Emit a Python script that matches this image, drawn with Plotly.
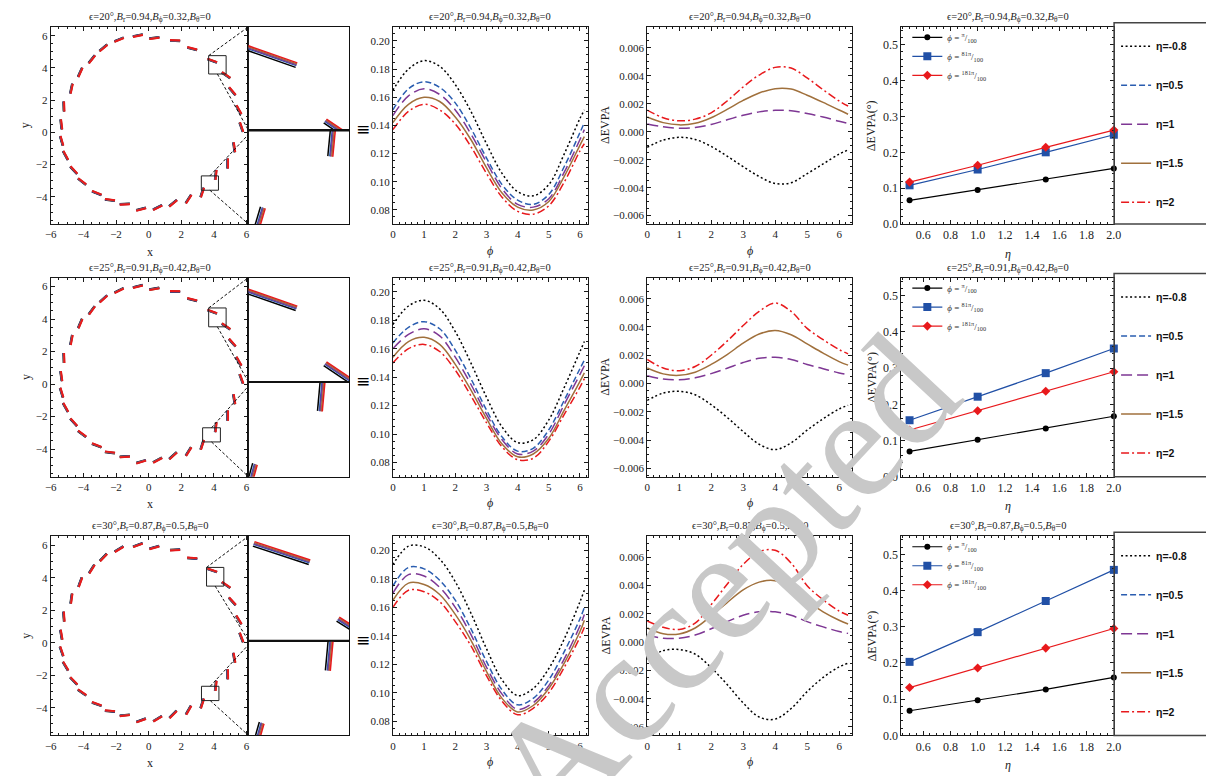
import math
import plotly.graph_objects as go

W, H = 1214, 776

# ---------------- data ----------------
eta_names = ["η=-0.8", "η=0.5", "η=1", "η=1.5", "η=2"]
phi_names = ["<i>ϕ</i> = <sup>π</sup>/<sub>100</sub>",
             "<i>ϕ</i> = <sup>81π</sup>/<sub>100</sub>",
             "<i>ϕ</i> = <sup>181π</sup>/<sub>100</sub>"]

panel_titles = [
    "ϵ=20°,<i>B</i><sub>r</sub>=0.94,<i>B</i><sub>ϕ</sub>=0.32,<i>B</i><sub>θ</sub>=0",
    "ϵ=25°,<i>B</i><sub>r</sub>=0.91,<i>B</i><sub>ϕ</sub>=0.42,<i>B</i><sub>θ</sub>=0",
    "ϵ=30°,<i>B</i><sub>r</sub>=0.87,<i>B</i><sub>ϕ</sub>=0.5,<i>B</i><sub>θ</sub>=0",
]
watermark = "Accepted"

# polarization ticks on the image ring (centres, degrees)
tick_x = [0.35, 1.62, 2.67, 3.9, 4.75, 5.13, 5.53, 5.69, 5.25, 4.85, 4.12, 3.29, 2.45, 1.5, 0.55, -0.46,
          -1.46, -2.37, -3.18, -4.08, -4.59, -5.09, -5.33, -5.35, -5.19, -4.73, -4.19, -3.48, -2.77, -1.81, -0.66]
tick_y = [5.85, 5.7, 5.2, 4.45, 3.55, 2.55, 1.4, 0.32, -0.93, -1.94, -2.65, -3.74, -4.15, -4.41, -4.68, -4.78,
          -4.47, -4.2, -3.77, -3.06, -2.35, -1.44, -0.53, 0.49, 1.6, 2.71, 3.72, 4.53, 5.24, 5.75, 6.0]
tick_angle_r1 = [8, 178, 165, 160, 145, 130, 119, 109, 98, 90, 84, 72, 57, 40, 27, 15,
                 3, 172, 158, 142, 132, 118, 106, 97, 92, 78, 66, 52, 40, 23, 12]
tick_angle_r2 = [10, 179, 166, 160, 145, 131, 120, 110, 99, 90, 84, 72, 58, 42, 28, 17,
                 4, 173, 159, 143, 132, 119, 107, 98, 92, 79, 67, 54, 42, 26, 14]
tick_angle_r3 = [16, 3, 176, 161, 146, 132, 121, 111, 100, 91, 84, 72, 60, 45, 31, 20,
                 6, 175, 160, 145, 134, 121, 109, 100, 94, 82, 70, 58, 46, 31, 20]

# zoom boxes [x0, x1, y0, y1]
box_up = [[3.68, 4.75, 3.62, 4.76], [3.68, 4.75, 3.52, 4.68], [3.55, 4.61, 3.48, 4.63]]
box_low = [[3.23, 4.28, -3.60, -2.71], [3.31, 4.40, -3.56, -2.69], [3.24, 4.31, -3.56, -2.68]]

# degree of polarization vs phi
phi_pd = [0, 0.5, 1, 1.5, 2, 2.5, 3, 3.5, 4, 4.5, 5, 5.5, 6, 6.14]
pd_r1_m08 = [0.165, 0.180, 0.186, 0.182, 0.169, 0.150, 0.127, 0.106, 0.093, 0.090, 0.098, 0.120, 0.145, 0.151]
pd_r1_05 = [0.151, 0.166, 0.171, 0.167, 0.156, 0.138, 0.117, 0.098, 0.087, 0.084, 0.091, 0.111, 0.135, 0.142]
pd_r1_1 = [0.147, 0.161, 0.166, 0.162, 0.151, 0.134, 0.114, 0.095, 0.084, 0.082, 0.088, 0.107, 0.130, 0.137]
pd_r1_15 = [0.142, 0.155, 0.160, 0.157, 0.146, 0.130, 0.110, 0.092, 0.082, 0.080, 0.086, 0.104, 0.126, 0.132]
pd_r1_2 = [0.137, 0.150, 0.155, 0.151, 0.141, 0.125, 0.106, 0.089, 0.079, 0.077, 0.083, 0.100, 0.122, 0.127]

pd_r2_m08 = [0.177, 0.190, 0.194, 0.188, 0.172, 0.150, 0.126, 0.105, 0.094, 0.096, 0.110, 0.133, 0.158, 0.165]
pd_r2_05 = [0.164, 0.175, 0.179, 0.174, 0.159, 0.139, 0.117, 0.098, 0.088, 0.090, 0.103, 0.124, 0.146, 0.152]
pd_r2_1 = [0.160, 0.170, 0.174, 0.169, 0.154, 0.135, 0.114, 0.096, 0.086, 0.088, 0.100, 0.121, 0.142, 0.148]
pd_r2_15 = [0.154, 0.165, 0.168, 0.163, 0.149, 0.131, 0.111, 0.093, 0.084, 0.086, 0.097, 0.117, 0.137, 0.143]
pd_r2_2 = [0.150, 0.160, 0.163, 0.158, 0.145, 0.127, 0.108, 0.091, 0.082, 0.083, 0.095, 0.114, 0.133, 0.139]

pd_r3_m08 = [0.190, 0.203, 0.2025, 0.194, 0.178, 0.156, 0.131, 0.109, 0.098, 0.103, 0.117, 0.138, 0.164, 0.172]
pd_r3_05 = [0.175, 0.188, 0.187, 0.179, 0.165, 0.145, 0.122, 0.102, 0.0915, 0.096, 0.109, 0.129, 0.152, 0.160]
pd_r3_1 = [0.170, 0.183, 0.182, 0.174, 0.160, 0.141, 0.118, 0.099, 0.0883, 0.093, 0.105, 0.124, 0.147, 0.155]
pd_r3_15 = [0.165, 0.177, 0.176, 0.169, 0.155, 0.137, 0.115, 0.096, 0.0865, 0.091, 0.103, 0.121, 0.143, 0.151]
pd_r3_2 = [0.160, 0.172, 0.171, 0.164, 0.150, 0.133, 0.112, 0.094, 0.0845, 0.089, 0.100, 0.118, 0.139, 0.146]

# Delta EVPA vs phi (eta = -0.8, 1, 1.5, 2)
phi_dev = [0, 0.5, 1, 1.5, 2, 2.5, 3, 3.5, 4, 4.5, 5, 5.5, 6, 6.28]
dev_r1_m08 = [-0.00111, -0.00060, -0.00040, -0.00055, -0.00105, -0.00175, -0.00250, -0.00320, -0.00370, -0.00365, -0.00300, -0.00230, -0.00160, -0.00130]
dev_r1_1 = [0.00055, 0.00035, 0.00025, 0.00030, 0.00052, 0.00085, 0.00118, 0.00142, 0.00153, 0.00150, 0.00130, 0.00105, 0.00075, 0.00060]
dev_r1_15 = [0.00106, 0.00065, 0.00049, 0.00060, 0.00100, 0.00160, 0.00224, 0.00277, 0.00308, 0.00305, 0.00261, 0.00210, 0.00155, 0.00125]
dev_r1_2 = [0.00155, 0.00100, 0.00078, 0.00090, 0.00135, 0.00220, 0.00320, 0.00405, 0.00460, 0.00455, 0.00385, 0.00300, 0.00220, 0.00184]

dev_r2_m08 = [-0.00120, -0.00068, -0.00055, -0.00080, -0.00150, -0.00240, -0.00340, -0.00430, -0.00468, -0.00420, -0.00330, -0.00250, -0.00180, -0.00155]
dev_r2_1 = [0.00055, 0.00032, 0.00026, 0.00040, 0.00070, 0.00108, 0.00148, 0.00178, 0.00185, 0.00170, 0.00135, 0.00105, 0.00075, 0.00063]
dev_r2_15 = [0.00110, 0.00068, 0.00058, 0.00080, 0.00135, 0.00205, 0.00285, 0.00350, 0.00375, 0.00345, 0.00280, 0.00215, 0.00155, 0.00130]
dev_r2_2 = [0.00170, 0.00110, 0.00091, 0.00120, 0.00200, 0.00300, 0.00410, 0.00510, 0.00570, 0.00510, 0.00390, 0.00310, 0.00240, 0.00210]

dev_r3_m08 = [-0.00120, -0.00060, -0.00052, -0.00085, -0.00180, -0.00300, -0.00430, -0.00530, -0.00545, -0.00470, -0.00350, -0.00250, -0.00175, -0.00150]
dev_r3_1 = [0.00050, 0.00028, 0.00028, 0.00050, 0.00095, 0.00145, 0.00190, 0.00215, 0.00215, 0.00190, 0.00145, 0.00108, 0.00075, 0.00062]
dev_r3_15 = [0.00100, 0.00060, 0.00058, 0.00100, 0.00185, 0.00280, 0.00370, 0.00425, 0.00435, 0.00380, 0.00290, 0.00215, 0.00155, 0.00128]
dev_r3_2 = [0.00150, 0.00105, 0.00090, 0.00135, 0.00265, 0.00410, 0.00550, 0.00640, 0.00650, 0.00560, 0.00400, 0.00300, 0.00220, 0.00190]

# Delta EVPA (deg) vs eta at three phi
eta_vals = [0.5, 1.0, 1.5, 2.0]
evpa_r1_a = [0.066, 0.095, 0.124, 0.155]
evpa_r1_b = [0.108, 0.152, 0.200, 0.249]
evpa_r1_c = [0.117, 0.164, 0.214, 0.262]
evpa_r2_a = [0.070, 0.102, 0.133, 0.167]
evpa_r2_b = [0.156, 0.221, 0.286, 0.354]
evpa_r2_c = [0.129, 0.182, 0.236, 0.290]
evpa_r3_a = [0.068, 0.097, 0.127, 0.160]
evpa_r3_b = [0.203, 0.285, 0.371, 0.457]
evpa_r3_c = [0.132, 0.186, 0.241, 0.295]

# ---------------- styles ----------------
eta_colors = ["#000000", "#2a5db0", "#7e3794", "#a0703c", "#e8191c"]
eta_dash = ["2px,2.5px", "6px,3px", "11px,5px", "solid", "8px,3px,2px,3px"]
phi_colors = ["#000000", "#2150a6", "#e8191c"]
phi_symbols = ["circle", "square", "diamond"]
phi_sizes = [6, 8, 7]
tick_half = 0.31
eta_offset = [0.032, 0.012, 0.002, -0.009, -0.02]
SERIF = "Liberation Serif"

rows_px = [(19, 218), (272, 473), (533, 734)]
col_main = (37, 237)
col_inset = (237, 339)
col2 = (383, 580)
col3 = (640, 847)
col4 = (897, 1112)
legbox = (1112, 1210)

main_xr = [-6.01, 6.12]
main_yr = [-5.7, 6.55]
pd_yr = [0.07, 0.21]
pd_xr = [0, 6.25]
dev_yr = [-0.0066, 0.0075]
dev_xr = [0, 6.4]
ev_xr = [0.44, 2.002]
ev_yr = [0, 0.55]

pd_rows = [[pd_r1_m08, pd_r1_05, pd_r1_1, pd_r1_15, pd_r1_2],
           [pd_r2_m08, pd_r2_05, pd_r2_1, pd_r2_15, pd_r2_2],
           [pd_r3_m08, pd_r3_05, pd_r3_1, pd_r3_15, pd_r3_2]]
dev_rows = [[dev_r1_m08, None, dev_r1_1, dev_r1_15, dev_r1_2],
            [dev_r2_m08, None, dev_r2_1, dev_r2_15, dev_r2_2],
            [dev_r3_m08, None, dev_r3_1, dev_r3_15, dev_r3_2]]
ev_rows = [[evpa_r1_a, evpa_r1_b, evpa_r1_c],
           [evpa_r2_a, evpa_r2_b, evpa_r2_c],
           [evpa_r3_a, evpa_r3_b, evpa_r3_c]]
ang_rows = [tick_angle_r1, tick_angle_r2, tick_angle_r3]


def fx(p):
    return p / W


def fy(p):
    return 1 - p / H


def dom_x(a):
    return [a[0] / W, a[1] / W]


def dom_y(top, bot):
    return [1 - bot / H, 1 - top / H]


def axname(i, kind):
    return f"{kind}axis" if i == 1 else f"{kind}axis{i}"


def axref(i, kind):
    return kind if i == 1 else f"{kind}{i}"


def base_axis(minor_dtick=None, fsize=11, **kw):
    d = dict(showgrid=False, zeroline=False, showline=True, linecolor="#1a1a1a", linewidth=1,
             mirror="ticks", ticks="inside", ticklen=4, tickwidth=1, tickcolor="#1a1a1a",
             tickfont=dict(family=SERIF, size=fsize, color="#222222"))
    if minor_dtick is not None:
        d["minor"] = dict(ticks="inside", ticklen=2, tickwidth=0.8, tickcolor="#1a1a1a",
                          dtick=minor_dtick, showgrid=False)
    d.update(kw)
    return d


def inset_axis(**kw):
    d = dict(showticklabels=False, ticks="", showgrid=False, zeroline=False,
             showline=True, linecolor="#111111", linewidth=1, mirror=True)
    d.update(kw)
    return d


def segments(xs, ys, angs, off):
    X, Y = [], []
    for cx, cy, a in zip(xs, ys, angs):
        t = math.radians(a)
        ux, uy = math.cos(t), math.sin(t)
        nx, ny = -uy, ux
        ox, oy = cx + off * nx, cy + off * ny
        X += [ox - tick_half * ux, ox + tick_half * ux, None]
        Y += [oy - tick_half * uy, oy + tick_half * uy, None]
    return X, Y


def to_px(x, y, xr, yr, xd, yd):
    px_ = xd[0] + (x - xr[0]) / (xr[1] - xr[0]) * (xd[1] - xd[0])
    py_ = yd[1] - (y - yr[0]) / (yr[1] - yr[0]) * (yd[1] - yd[0])
    return px_, py_


def ann(text, x, y, font, angle=0):
    return dict(text=text, x=fx(x), y=fy(y), xref="paper", yref="paper", xanchor="center",
                yanchor="middle", showarrow=False, font=font, textangle=angle)


fig = go.Figure()
layout = dict(width=W, height=H, margin=dict(l=0, r=0, t=0, b=0),
              paper_bgcolor="white", plot_bgcolor="white", showlegend=True)
shapes = []
annotations = []

for r in range(3):
    top, bot = rows_px[r]
    mid = (top + bot) / 2 + 5
    b = r * 6
    i_main, i_up, i_low, i_pd, i_dev, i_ev = b + 1, b + 2, b + 3, b + 4, b + 5, b + 6
    leg_eta = "legend" if r == 0 else f"legend{r + 1}"
    leg_phi = f"legend{r + 4}"

    # --- axes ---
    layout[axname(i_main, "x")] = base_axis(0.5, domain=dom_x(col_main), range=main_xr, anchor=axref(i_main, "y"),
                                            dtick=2, tick0=0)
    layout[axname(i_main, "y")] = base_axis(0.5, domain=dom_y(top, bot), range=main_yr, anchor=axref(i_main, "x"),
                                            dtick=2, tick0=0)
    bu, bl = box_up[r], box_low[r]
    layout[axname(i_up, "x")] = inset_axis(domain=dom_x(col_inset), range=[bu[0], bu[1]], anchor=axref(i_up, "y"))
    layout[axname(i_up, "y")] = inset_axis(domain=dom_y(top, mid), range=[bu[2], bu[3]], anchor=axref(i_up, "x"))
    layout[axname(i_low, "x")] = inset_axis(domain=dom_x(col_inset), range=[bl[0], bl[1]], anchor=axref(i_low, "y"))
    layout[axname(i_low, "y")] = inset_axis(domain=dom_y(mid, bot), range=[bl[2], bl[3]], anchor=axref(i_low, "x"))
    layout[axname(i_pd, "x")] = base_axis(0.2, domain=dom_x(col2), range=pd_xr, anchor=axref(i_pd, "y"),
                                          dtick=1, tick0=0)
    layout[axname(i_pd, "y")] = base_axis(0.005, domain=dom_y(top, bot), range=pd_yr, anchor=axref(i_pd, "x"),
                                          dtick=0.02, tick0=0, tickformat=".2f")
    layout[axname(i_dev, "x")] = base_axis(0.2, domain=dom_x(col3), range=dev_xr, anchor=axref(i_dev, "y"),
                                           dtick=1, tick0=0)
    layout[axname(i_dev, "y")] = base_axis(0.0005, domain=dom_y(top, bot), range=dev_yr, anchor=axref(i_dev, "x"),
                                           dtick=0.002, tick0=0, tickformat=".3f")
    layout[axname(i_ev, "x")] = base_axis(0.05, fsize=12, domain=dom_x(col4), range=ev_xr, anchor=axref(i_ev, "y"),
                                          dtick=0.2, tick0=0, tickformat=".1f")
    layout[axname(i_ev, "y")] = base_axis(0.02, fsize=12, domain=dom_y(top, bot), range=ev_yr, anchor=axref(i_ev, "x"),
                                          dtick=0.1, tick0=0, tickformat=".1f")

    # --- polarization ticks (main + insets) ---
    for k in range(5):
        X, Y = segments(tick_x, tick_y, ang_rows[r], eta_offset[k])
        for ia, wdt in ((i_main, 1.9), (i_up, 1.5), (i_low, 1.5)):
            fig.add_trace(go.Scatter(x=X, y=Y, mode="lines", line=dict(color=eta_colors[k], width=wdt),
                                     xaxis=axref(ia, "x"), yaxis=axref(ia, "y"), showlegend=False,
                                     hoverinfo="skip"))

    # zoom boxes
    for bx in (bu, bl):
        shapes.append(dict(type="rect", xref=axref(i_main, "x"), yref=axref(i_main, "y"),
                           x0=bx[0], x1=bx[1], y0=bx[2], y1=bx[3], line=dict(color="#222222", width=1)))
    # connector dashed lines
    xd, yd = col_main, (top, bot)
    p1 = to_px(bu[0], bu[3], main_xr, main_yr, xd, yd)
    p2 = to_px((bu[0] + bu[1]) / 2, bu[2], main_xr, main_yr, xd, yd)
    p3 = to_px((bl[0] + bl[1]) / 2, bl[3], main_xr, main_yr, xd, yd)
    p4 = to_px((bl[0] + bl[1]) / 2, bl[2], main_xr, main_yr, xd, yd)
    for (sx, sy), (ex, ey) in ((p1, (col_inset[0], top)), (p2, (col_inset[0], mid)),
                               (p3, (col_inset[0], mid + 4)), (p4, (col_inset[0], bot))):
        shapes.append(dict(type="line", xref="paper", yref="paper", x0=fx(sx), y0=fy(sy), x1=fx(ex), y1=fy(ey),
                           line=dict(color="#111111", width=1, dash="3px,2px")))
    # thick split line in inset
    shapes.append(dict(type="line", xref="paper", yref="paper", x0=fx(col_inset[0]), x1=fx(col_inset[1]),
                       y0=fy(mid), y1=fy(mid), line=dict(color="#111111", width=2)))

    # --- degree of polarization ---
    for k in range(5):
        fig.add_trace(go.Scatter(x=phi_pd, y=pd_rows[r][k], mode="lines", name=eta_names[k],
                                 line=dict(color=eta_colors[k], width=1.5, dash=eta_dash[k], shape="spline"),
                                 xaxis=axref(i_pd, "x"), yaxis=axref(i_pd, "y"),
                                 legend=leg_eta, legendgroup=f"r{r}e{k}", showlegend=True))
    # --- delta EVPA ---
    for k in range(5):
        if dev_rows[r][k] is None:
            continue
        fig.add_trace(go.Scatter(x=phi_dev, y=dev_rows[r][k], mode="lines", name=eta_names[k],
                                 line=dict(color=eta_colors[k], width=1.5, dash=eta_dash[k], shape="spline"),
                                 xaxis=axref(i_dev, "x"), yaxis=axref(i_dev, "y"), showlegend=False))
    # --- delta EVPA vs eta ---
    for k in range(3):
        fig.add_trace(go.Scatter(x=eta_vals, y=ev_rows[r][k], mode="lines+markers", name=phi_names[k],
                                 line=dict(color=phi_colors[k], width=1.2),
                                 marker=dict(symbol=phi_symbols[k], size=phi_sizes[k], color=phi_colors[k]),
                                 xaxis=axref(i_ev, "x"), yaxis=axref(i_ev, "y"),
                                 legend=leg_phi, legendgroup=f"r{r}p{k}", showlegend=True, cliponaxis=False))

    # legends
    layout[leg_eta] = dict(x=fx(legbox[0] + 2), y=fy(top + 5), xanchor="left", yanchor="top",
                           bgcolor="rgba(0,0,0,0)", borderwidth=0, tracegroupgap=20, itemwidth=30,
                           font=dict(family="Liberation Sans", size=10.5, color="#111111", weight="bold"))
    layout[leg_phi] = dict(x=fx(col4[0] + 6), y=fy(top - 4), xanchor="left", yanchor="top",
                           bgcolor="rgba(0,0,0,0)", borderwidth=0, tracegroupgap=0, itemwidth=30,
                           font=dict(family=SERIF, size=9, color="#333333"))
    shapes.append(dict(type="rect", xref="paper", yref="paper", x0=fx(legbox[0]), x1=fx(legbox[1]),
                       y0=fy(bot), y1=fy(top - 4), line=dict(color="#444444", width=1.5)))

    # titles
    tfont = dict(family=SERIF, size=10.5, color="#222222")
    for cx in ((col_main[0] + col_main[1]) / 2, (col2[0] + col2[1]) / 2,
               (col3[0] + col3[1]) / 2, (col4[0] + col4[1]) / 2):
        annotations.append(dict(text=panel_titles[r], x=fx(cx), y=fy(top - 1), xref="paper", yref="paper",
                                xanchor="center", yanchor="bottom", showarrow=False, font=tfont))
    afont = dict(family=SERIF, size=12, color="#222222")
    ymid = (top + bot) / 2
    annotations += [
        ann("x", (col_main[0] + col_main[1]) / 2, bot + 28, afont),
        ann("y", 12, ymid, afont, -90),
        ann("<i>ϕ</i>", (col2[0] + col2[1]) / 2, bot + 27, afont),
        ann("<i>ϕ</i>", (col3[0] + col3[1]) / 2, bot + 27, afont),
        ann("ΔEVPA", 598, ymid, afont, -90),
        ann("ΔEVPA(°)", 867, ymid, afont, -90),
        ann("<i>η</i>", (col4[0] + col4[1]) / 2, bot + 30, afont),
        ann("≡", 353, mid - 1, dict(family="DejaVu Sans", size=17, color="#000000")),
    ]

# watermark
annotations.append(ann(watermark, 715, 580, dict(family=SERIF, size=160, color="#c8c8c8"), -47))

layout["shapes"] = shapes
layout["annotations"] = annotations
fig.update_layout(**layout)
fig.write_html("out.html")
